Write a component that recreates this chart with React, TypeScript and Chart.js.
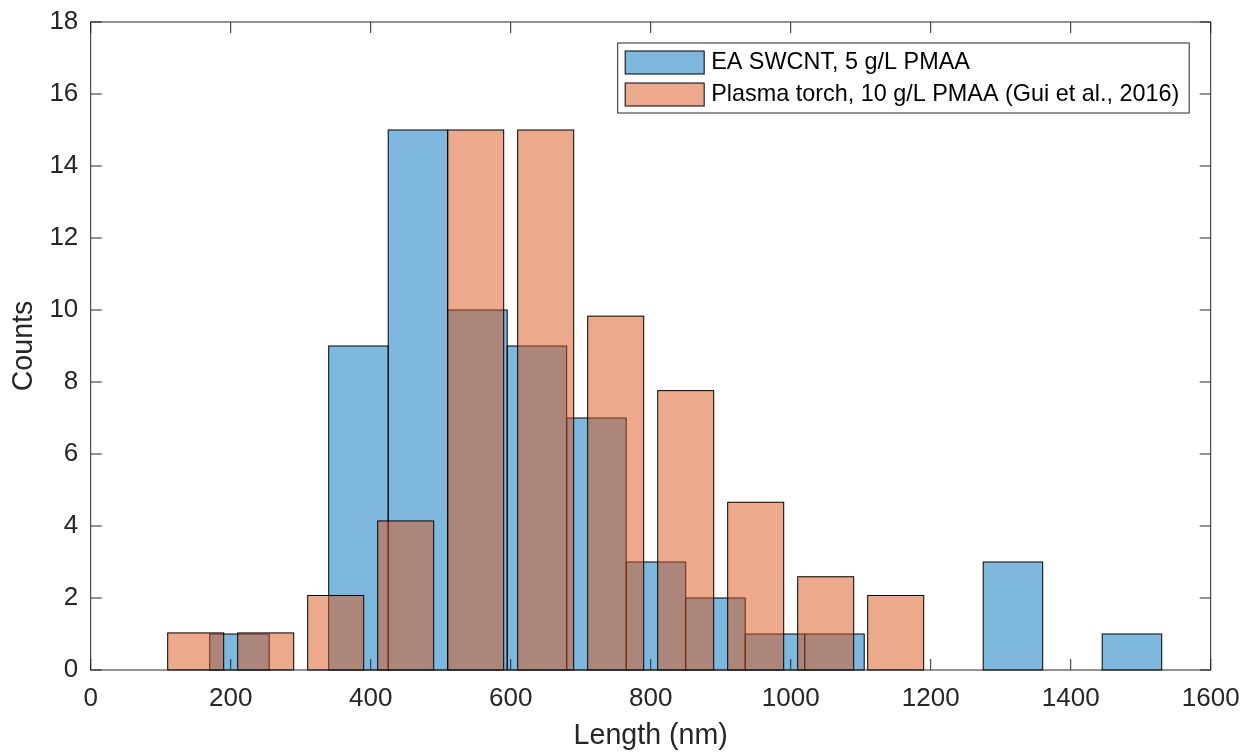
import React, { useEffect, useRef } from "react";
import { Chart, registerables } from "chart.js";

Chart.register(...registerables);

// Tick values for both axes
const xTickValues = [0, 200, 400, 600, 800, 1000, 1200, 1400, 1600];
const yTickValues = [0, 2, 4, 6, 8, 10, 12, 14, 16, 18];

// EA SWCNT length histogram: bin centres (nm, 85 nm bins) and counts
const eaBinCenters = [
  212.5, 297.5, 382.5, 467.5, 552.5, 637.5, 722.5, 807.5, 892.5, 977.5,
  1062.5, 1147.5, 1232.5, 1317.5, 1402.5, 1487.5,
];
const eaCounts = [1, 0, 9, 15, 10, 9, 7, 3, 2, 1, 1, 0, 0, 3, 0, 1];

// Plasma torch length histogram (Gui et al., 2016): bin centres (nm) and counts
const ptBinCenters = [150, 250, 350, 450, 550, 650, 750, 850, 950, 1050, 1150];
const ptCounts = [1.03, 1.03, 2.07, 4.14, 15, 15, 9.83, 7.76, 4.66, 2.59, 2.07];

const seriesLabels = [
  "EA SWCNT, 5 g/L PMAA",
  "Plasma torch, 10 g/L PMAA (Gui et al., 2016)",
];

const FONT = "'Liberation Sans', Arial, Helvetica, sans-serif";
const AXIS_COLOR = "#262626";
const BLUE_FILL = "rgba(0, 114, 189, 0.5)";
const ORANGE_FILL = "rgba(217, 83, 25, 0.5)";

// Outline each bar right after its dataset is filled, so later datasets blend over it
const barEdges = {
  id: "barEdges",
  afterDatasetDraw(chart: any, args: any) {
    const { ctx, chartArea } = chart;
    ctx.save();
    ctx.beginPath();
    ctx.rect(chartArea.left - 1, chartArea.top - 1, chartArea.width + 2, chartArea.height + 2);
    ctx.clip();
    ctx.strokeStyle = "#000000";
    ctx.lineWidth = 1;
    for (const el of args.meta.data) {
      const p = el.getProps(["x", "y", "base", "width"], true);
      if (Math.abs(p.base - p.y) < 0.01) continue;
      ctx.strokeRect(p.x - p.width / 2, Math.min(p.y, p.base), p.width, Math.abs(p.base - p.y));
    }
    ctx.restore();
  },
};

// Boxed axes with inward tick marks on all four sides
const axesFrame = {
  id: "axesFrame",
  afterDatasetsDraw(chart: any) {
    const { ctx, chartArea } = chart;
    const { left, right, top, bottom } = chartArea;
    const xs = chart.scales.x;
    const ys = chart.scales.y;
    const tl = 11;
    ctx.save();
    ctx.strokeStyle = AXIS_COLOR;
    ctx.lineWidth = 1;
    ctx.beginPath();
    for (const v of xTickValues) {
      const px = xs.getPixelForValue(v);
      ctx.moveTo(px, bottom);
      ctx.lineTo(px, bottom - tl);
      ctx.moveTo(px, top);
      ctx.lineTo(px, top + tl);
    }
    for (const v of yTickValues) {
      const py = ys.getPixelForValue(v);
      ctx.moveTo(left, py);
      ctx.lineTo(left + tl, py);
      ctx.moveTo(right, py);
      ctx.lineTo(right - tl, py);
    }
    ctx.stroke();
    ctx.strokeRect(left, top, right - left, bottom - top);
    ctx.restore();
  },
};

// Legend drawn inside the plot, top right, in a framed box
const boxedLegend = {
  id: "boxedLegend",
  afterDraw(chart: any) {
    const { ctx, chartArea } = chart;
    const datasets = chart.data.datasets;
    const fontSize = 23.4;
    ctx.save();
    ctx.font = `${fontSize}px ${FONT}`;
    const textW = Math.max(...datasets.map((d: any) => ctx.measureText(d.label).width));
    const swW = 79;
    const swH = 23;
    const padL = 7.5;
    const gap = 7;
    const padR = 10;
    const boxH = 70;
    const boxW = padL + swW + gap + textW + padR;
    const boxRight = chartArea.right - 21.5;
    const boxTop = chartArea.top + 21;
    const boxLeft = boxRight - boxW;

    ctx.fillStyle = "#ffffff";
    ctx.fillRect(boxLeft, boxTop, boxW, boxH);
    ctx.strokeStyle = AXIS_COLOR;
    ctx.lineWidth = 1;
    ctx.strokeRect(boxLeft, boxTop, boxW, boxH);

    const rowCenters = [boxTop + 19.5, boxTop + 51.5];
    datasets.forEach((d: any, i: number) => {
      const cy = rowCenters[i];
      const sx = boxLeft + padL;
      ctx.fillStyle = d.backgroundColor;
      ctx.fillRect(sx, cy - swH / 2, swW, swH);
      ctx.strokeStyle = "#000000";
      ctx.strokeRect(sx, cy - swH / 2, swW, swH);
      ctx.fillStyle = "#000000";
      ctx.textAlign = "left";
      ctx.textBaseline = "middle";
      ctx.fillText(d.label, sx + swW + gap, cy);
    });
    ctx.restore();
  },
};

// Fixed axis box sizes; label overhang must not shrink the plot area
const fixAxisSize = (size: { width?: number; height?: number }) => (s: any) => {
  if (size.width !== undefined) s.width = size.width;
  if (size.height !== undefined) s.height = size.height;
  s.paddingLeft = 0;
  s.paddingRight = 0;
  s.paddingTop = 0;
  s.paddingBottom = 0;
};

export default function App() {
  const canvasRef = useRef<HTMLCanvasElement | null>(null);

  useEffect(() => {
    const canvas = canvasRef.current;
    if (!canvas) return;
    Chart.defaults.font.family = FONT;

    const chart = new Chart(canvas, {
      type: "bar",
      data: {
        datasets: [
          {
            label: seriesLabels[0],
            data: eaBinCenters.map((x, i) => ({ x, y: eaCounts[i] })),
            xAxisID: "x",
            backgroundColor: BLUE_FILL,
            borderWidth: 0,
            grouped: false,
            categoryPercentage: 1,
            barPercentage: 1,
            inflateAmount: 0,
            order: 2,
          },
          {
            label: seriesLabels[1],
            data: ptBinCenters.map((x, i) => ({ x, y: ptCounts[i] })),
            xAxisID: "x2",
            backgroundColor: ORANGE_FILL,
            borderWidth: 0,
            grouped: false,
            categoryPercentage: 1,
            barPercentage: 0.8,
            inflateAmount: 0,
            order: 1,
          },
        ],
      } as any,
      options: {
        animation: false,
        responsive: true,
        maintainAspectRatio: false,
        layout: { padding: { top: 22, right: 31.3, left: 0, bottom: 0 } },
        plugins: {
          legend: { display: false },
          tooltip: { enabled: false },
        },
        scales: {
          x: {
            type: "linear",
            position: "bottom",
            min: 0,
            max: 1600,
            offset: false,
            grid: { display: false, drawTicks: false },
            border: { display: false },
            ticks: {
              stepSize: 200,
              padding: 13.4,
              color: AXIS_COLOR,
              font: { size: 26 },
              maxRotation: 0,
              callback: (v: any) => String(v),
            },
            title: {
              display: true,
              text: "Length (nm)",
              color: AXIS_COLOR,
              font: { size: 28.6 },
              padding: { top: 0, bottom: 0 },
            },
            afterFit: fixAxisSize({ height: 83 }),
          },
          x2: {
            type: "linear",
            display: false,
            min: 0,
            max: 1600,
            offset: false,
            ticks: { stepSize: 200 },
          },
          y: {
            type: "linear",
            min: 0,
            max: 18,
            grid: { display: false, drawTicks: false },
            border: { display: false },
            ticks: {
              stepSize: 2,
              padding: 12.4,
              color: AXIS_COLOR,
              font: { size: 26 },
              callback: (v: any) => String(v),
            },
            title: {
              display: true,
              text: "Counts",
              color: AXIS_COLOR,
              font: { size: 28.6 },
              padding: { top: 6.8, bottom: 0 },
            },
            afterFit: fixAxisSize({ width: 90.7 }),
          },
        },
      } as any,
      plugins: [barEdges, axesFrame, boxedLegend],
    });

    return () => chart.destroy();
  }, []);

  return (
    <div style={{ position: "fixed", left: 0, top: 0, width: 1242, height: 753, background: "#ffffff" }}>
      <canvas ref={canvasRef} />
    </div>
  );
}
